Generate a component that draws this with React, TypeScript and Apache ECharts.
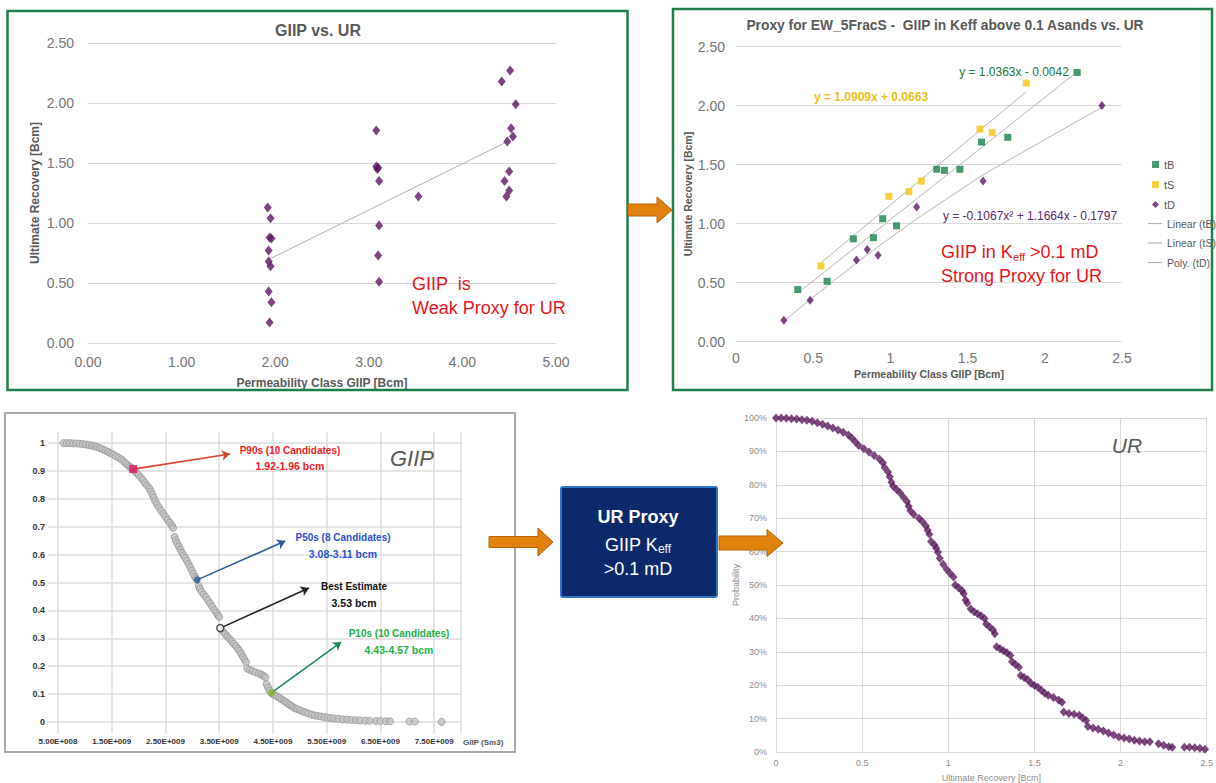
import React, { useEffect, useRef } from "react";
import * as echarts from "echarts";

const FONT = "'Liberation Sans', Arial, sans-serif";

// ---------- GIIP vs. UR : permeability-class candidates ----------
const classGiip = [
  1.92, 1.95, 1.94, 1.96, 1.93, 1.93, 1.95, 1.93, 1.96, 1.94,
  3.08, 3.08, 3.09, 3.10, 3.11, 3.11, 3.10, 3.11,
  3.53,
  4.51, 4.42, 4.57, 4.52, 4.54, 4.48, 4.50, 4.45, 4.50, 4.47,
];
const classUr = [
  1.13, 1.04, 0.88, 0.87, 0.77, 0.68, 0.64, 0.43, 0.34, 0.17,
  1.77, 1.47, 1.45, 1.46, 1.35, 0.98, 0.73, 0.51,
  1.22,
  2.27, 2.18, 1.99, 1.79, 1.72, 1.68, 1.43, 1.35, 1.27, 1.22,
];
const classTrendGiip = [1.94, 4.46];
const classTrendUr = [0.7, 1.67];

// ---------- Proxy for EW_5FracS : GIIP in Keff > 0.1 vs. UR ----------
const tbGiip = [0.4, 0.59, 0.76, 0.89, 0.95, 1.04, 1.3, 1.35, 1.45, 1.59, 1.76, 2.21];
const tbUr = [0.44, 0.51, 0.87, 0.88, 1.04, 0.98, 1.46, 1.45, 1.46, 1.69, 1.73, 2.28];
const tsGiip = [0.55, 0.99, 1.12, 1.2, 1.58, 1.66, 1.88];
const tsUr = [0.64, 1.23, 1.27, 1.36, 1.8, 1.77, 2.19];
const tdGiip = [0.31, 0.48, 0.78, 0.85, 0.92, 1.17, 1.6, 2.37];
const tdUr = [0.18, 0.35, 0.69, 0.78, 0.73, 1.14, 1.36, 2.0];
// trendline coefficients as printed on the chart
const tbFit = [1.0363, -0.0042];
const tsFit = [1.0909, 0.0663];
const tdFit = [-0.1067, 1.1664, -0.1797];

// ---------- GIIP exceedance curve [bcm, probability] ----------
const giipExceedance: [number, number][] = [
  [0.6, 1.0], [0.66, 1.0], [0.72, 1.0], [0.78, 0.999], [0.84, 0.999], [0.9, 0.998], [0.96, 0.997],
  [1.02, 0.995], [1.08, 0.993], [1.13, 0.991], [1.18, 0.989], [1.23, 0.986], [1.28, 0.982], [1.33, 0.978],
  [1.38, 0.974], [1.43, 0.969], [1.48, 0.964], [1.53, 0.959], [1.58, 0.953], [1.63, 0.948], [1.68, 0.942],
  [1.72, 0.935], [1.76, 0.928], [1.8, 0.921], [1.84, 0.915], [1.87, 0.911],
  [1.93, 0.9], [1.96, 0.893], [2.0, 0.886], [2.04, 0.877], [2.08, 0.868], [2.12, 0.857], [2.16, 0.848],
  [2.2, 0.838], [2.23, 0.827], [2.26, 0.816], [2.28, 0.804], [2.31, 0.792], [2.34, 0.781], [2.38, 0.77],
  [2.42, 0.758], [2.46, 0.747], [2.5, 0.736], [2.54, 0.725], [2.58, 0.715], [2.62, 0.704], [2.64, 0.696],
  [2.67, 0.664], [2.69, 0.652], [2.72, 0.641], [2.75, 0.63], [2.78, 0.618], [2.81, 0.607], [2.84, 0.597],
  [2.87, 0.588], [2.9, 0.578], [2.93, 0.567], [2.96, 0.556], [2.99, 0.544], [3.02, 0.532], [3.05, 0.521],
  [3.07, 0.514],
  [3.12, 0.488], [3.14, 0.478], [3.17, 0.468], [3.21, 0.458], [3.25, 0.448], [3.29, 0.437], [3.33, 0.426],
  [3.37, 0.414], [3.41, 0.402], [3.45, 0.391], [3.48, 0.383], [3.5, 0.377],
  [3.57, 0.325], [3.61, 0.316], [3.65, 0.307], [3.69, 0.299], [3.73, 0.29], [3.77, 0.281], [3.81, 0.272],
  [3.85, 0.263], [3.88, 0.255], [3.91, 0.245], [3.94, 0.235], [3.97, 0.225], [4.0, 0.215],
  [4.02, 0.192], [4.07, 0.187], [4.12, 0.183], [4.18, 0.178], [4.24, 0.174], [4.29, 0.17], [4.33, 0.165],
  [4.36, 0.16],
  [4.38, 0.136], [4.41, 0.124], [4.44, 0.112], [4.5, 0.1], [4.54, 0.096], [4.58, 0.092], [4.62, 0.087],
  [4.66, 0.082], [4.7, 0.077], [4.74, 0.072], [4.78, 0.066], [4.82, 0.061], [4.86, 0.056], [4.9, 0.051],
  [4.95, 0.047], [5.0, 0.043], [5.05, 0.039], [5.1, 0.035], [5.16, 0.031], [5.22, 0.027], [5.28, 0.024],
  [5.34, 0.022], [5.4, 0.02], [5.46, 0.018], [5.52, 0.016], [5.58, 0.015], [5.64, 0.013], [5.72, 0.012],
  [5.8, 0.01], [5.88, 0.009], [5.96, 0.008], [6.04, 0.007], [6.12, 0.006], [6.22, 0.005], [6.3, 0.005],
  [6.42, 0.004], [6.5, 0.004], [6.6, 0.003], [6.68, 0.003], [7.04, 0.002], [7.14, 0.002], [7.64, 0.001],
];

// highlighted candidates and their call-out arrow ends [bcm, probability]
const candidateGiip = [1.9, 3.09, 3.52, 4.47];
const candidateProb = [0.907, 0.51, 0.337, 0.105];
const calloutGiip = [3.7, 4.73, 5.17, 5.77];
const calloutProb = [0.961, 0.649, 0.481, 0.287];
const candidateTitles = ["P90s (10 Candidates)", "P50s (8 Candidates)", "Best Estimate", "P10s (10 Candidates)"];
const candidateRanges = ["1.92-1.96 bcm", "3.08-3.11 bcm", "3.53 bcm", "4.43-4.57 bcm"];

// ---------- UR exceedance curve [bcm, probability] ----------
const urExceedance: [number, number][] = [
  [0.0, 1.0], [0.03, 1.0], [0.06, 0.999], [0.09, 0.998], [0.12, 0.997], [0.15, 0.995], [0.18, 0.993],
  [0.21, 0.99], [0.24, 0.986], [0.27, 0.981], [0.3, 0.976], [0.33, 0.97], [0.36, 0.964], [0.39, 0.957],
  [0.42, 0.949], [0.44, 0.94], [0.46, 0.929], [0.48, 0.918], [0.51, 0.908], [0.54, 0.898], [0.57, 0.888],
  [0.6, 0.877], [0.62, 0.866], [0.63, 0.852], [0.65, 0.838], [0.66, 0.824], [0.67, 0.808], [0.68, 0.796],
  [0.7, 0.786], [0.72, 0.776], [0.74, 0.763], [0.76, 0.75], [0.77, 0.736], [0.78, 0.722], [0.8, 0.711],
  [0.83, 0.7], [0.85, 0.689], [0.87, 0.677], [0.88, 0.664], [0.89, 0.652],
  [0.9, 0.63], [0.92, 0.62], [0.93, 0.61], [0.94, 0.598],
  [0.95, 0.58], [0.97, 0.562], [0.99, 0.547], [1.01, 0.535], [1.03, 0.524],
  [1.04, 0.5], [1.06, 0.492], [1.08, 0.483], [1.09, 0.474],
  [1.1, 0.455], [1.11, 0.446], [1.13, 0.428], [1.15, 0.42], [1.17, 0.414], [1.19, 0.408], [1.21, 0.4],
  [1.22, 0.383], [1.24, 0.374], [1.26, 0.365], [1.27, 0.354],
  [1.28, 0.315], [1.3, 0.309], [1.32, 0.303], [1.34, 0.297], [1.36, 0.29],
  [1.37, 0.27], [1.39, 0.262], [1.41, 0.254],
  [1.42, 0.229], [1.44, 0.223], [1.46, 0.217], [1.48, 0.206], [1.5, 0.199], [1.52, 0.194], [1.54, 0.185],
  [1.56, 0.176], [1.58, 0.17], [1.61, 0.163], [1.64, 0.156], [1.66, 0.149],
  [1.67, 0.12], [1.7, 0.115], [1.73, 0.113], [1.76, 0.11], [1.78, 0.102], [1.8, 0.094],
  [1.81, 0.076], [1.84, 0.072], [1.87, 0.068], [1.9, 0.063], [1.93, 0.057], [1.96, 0.051], [1.99, 0.045],
  [2.02, 0.042], [2.05, 0.039], [2.08, 0.035], [2.11, 0.033], [2.14, 0.031], [2.17, 0.031],
  [2.22, 0.025], [2.25, 0.02], [2.28, 0.016], [2.3, 0.014],
  [2.37, 0.014], [2.4, 0.014], [2.43, 0.013], [2.46, 0.011], [2.49, 0.008],
];

const lin = (c: number[], x: number) => c[0] * x + c[1];
const quad = (c: number[], x: number) => c[0] * x * x + c[1] * x + c[2];
const ends = (xs: number[]) => [Math.min(...xs), Math.max(...xs)];

const sciLabel = (v: number) => {
  if (v > 7.9e9) return "";
  const e = Math.floor(Math.log10(v) + 1e-9);
  const m = v / Math.pow(10, e);
  return `${m.toFixed(2)}E+${String(e).padStart(3, "0")}`;
};

const txt = (text: string, x: number, y: number, size: number, fill: string, extra: any = {}, z = 60) => ({
  type: "text",
  x,
  y,
  z,
  silent: true,
  style: {
    text,
    fontFamily: FONT,
    fontSize: size,
    fill,
    align: "center",
    verticalAlign: "middle",
    ...extra,
  },
});

const blockArrow = (x0: number, x1: number, xt: number, yc: number, sh: number, hh: number) => ({
  type: "polygon",
  z: 100,
  silent: true,
  shape: {
    points: [
      [x0, yc - sh], [x1, yc - sh], [x1, yc - hh], [xt, yc], [x1, yc + hh], [x1, yc + sh], [x0, yc + sh],
    ],
  },
  style: { fill: "#e2820c", stroke: "#b4620a", lineWidth: 1 },
});

const gray = "#767676";
const dark = "#595959";
const purple = "#5e1461";

const candidateStyles = [
  { symbol: "rect", size: 8, item: { color: "#e0115f" }, arrow: "#d8452c", text: "#ef1c25" },
  { symbol: "circle", size: 7, item: { color: "#2e5c9e" }, arrow: "#2d5b9a", text: "#2b50d0" },
  { symbol: "circle", size: 7, item: { color: "#ffffff", borderColor: "#222", borderWidth: 1.5 }, arrow: "#222", text: "#111" },
  { symbol: "circle", size: 8, item: { color: "#8cb33a" }, arrow: "#1d8a5a", text: "#25b04a" },
];
const calloutTextPos = [
  [290, 450, 466],
  [343, 537, 554],
  [354, 586, 603],
  [399, 633, 650],
];

function buildOption(): any {
  const tbLine = ends(tbGiip).map((x) => [x, lin(tbFit, x)]);
  const tsLine = ends(tsGiip).map((x) => [x, lin(tsFit, x)]);
  const tdCurve = tdGiip.map((x) => [x, quad(tdFit, x)]);

  const candidateSeries = candidateGiip.map((g, i) => ({
    type: "scatter",
    xAxisIndex: 3,
    yAxisIndex: 3,
    symbol: candidateStyles[i].symbol,
    symbolSize: candidateStyles[i].size,
    itemStyle: candidateStyles[i].item,
    z: 5,
    data: [[g * 1e9, candidateProb[i]]],
    markLine: {
      silent: true,
      symbol: ["none", "arrow"],
      symbolSize: 8,
      label: { show: false },
      lineStyle: { color: candidateStyles[i].arrow, width: 1.6, type: "solid" },
      data: [[{ coord: [g * 1e9, candidateProb[i]] }, { coord: [calloutGiip[i] * 1e9, calloutProb[i]] }]],
    },
  }));

  const calloutTexts: any[] = [];
  candidateTitles.forEach((t, i) => {
    const [cx, y1, y2] = calloutTextPos[i];
    calloutTexts.push(txt(t, cx, y1, 10, candidateStyles[i].text, { fontWeight: "bold" }));
    calloutTexts.push(txt(candidateRanges[i], cx, y2, 10.5, candidateStyles[i].text, { fontWeight: "bold" }));
  });

  return {
    animation: false,
    backgroundColor: "#ffffff",
    textStyle: { fontFamily: FONT },
    grid: [
      { left: 88, top: 43, width: 468, height: 300 },
      { left: 736, top: 46.5, width: 386, height: 295 },
      { left: 48, top: 443, width: 413, height: 279 },
      { left: 58, top: 432, width: 403, height: 301.3 },
      { left: 776, top: 418, width: 435, height: 335 },
    ],
    legend: [
      {
        data: ["tB", "tS", "tD"],
        orient: "vertical",
        left: 1147,
        top: 154,
        itemGap: 9,
        itemWidth: 7,
        itemHeight: 7,
        selectedMode: false,
        textStyle: { fontFamily: FONT, fontSize: 11, color: dark },
      },
      {
        data: [
          { name: "Linear (tB)", icon: "rect" },
          { name: "Linear (tS)", icon: "rect" },
          { name: "Poly. (tD)", icon: "rect" },
        ],
        orient: "vertical",
        left: 1143,
        top: 213,
        itemGap: 8.5,
        itemWidth: 14,
        itemHeight: 1.2,
        selectedMode: false,
        itemStyle: { color: "#b5b5b5", borderWidth: 0 },
        textStyle: { fontFamily: FONT, fontSize: 10.5, color: dark },
      },
    ],
    xAxis: [
      {
        gridIndex: 0, type: "value", min: 0, max: 5, interval: 1,
        axisLine: { show: false }, axisTick: { show: false }, splitLine: { show: false },
        axisLabel: { formatter: (v: number) => v.toFixed(2), fontSize: 14, color: gray, margin: 12 },
        name: "Permeability Class GIIP [Bcm]", nameLocation: "middle", nameGap: 34,
        nameTextStyle: { fontSize: 12, fontWeight: "bold", color: dark },
      },
      {
        gridIndex: 1, type: "value", min: 0, max: 2.5, interval: 0.5,
        axisLine: { show: false }, axisTick: { show: false }, splitLine: { show: false },
        axisLabel: { formatter: (v: number) => String(v), fontSize: 14, color: gray, margin: 9 },
        name: "Permeability Class GIIP [Bcm]", nameLocation: "middle", nameGap: 27,
        nameTextStyle: { fontSize: 10.5, fontWeight: "bold", color: dark },
      },
      { gridIndex: 2, type: "value", min: 0, max: 1, show: false },
      {
        gridIndex: 3, type: "value", min: 5e8, max: 8e9, interval: 1e9,
        axisLine: { show: false }, axisTick: { show: false },
        splitLine: { show: true, lineStyle: { color: "#dcdcdc", width: 1.5 } },
        axisLabel: { formatter: sciLabel, fontSize: 8, fontWeight: "bold", color: "#333", margin: 4 },
      },
      {
        gridIndex: 4, type: "value", min: 0, max: 2.5, interval: 0.5,
        axisLine: { show: false }, axisTick: { show: false },
        splitLine: { show: true, lineStyle: { color: "#d9d9d9" } },
        axisLabel: { formatter: (v: number) => String(v), fontSize: 9, color: "#8c8c8c", margin: 6 },
        name: "Ultimate Recovery [Bcm]", nameLocation: "middle", nameGap: 21,
        nameTextStyle: { fontSize: 9, color: "#8c8c8c" },
      },
    ],
    yAxis: [
      {
        gridIndex: 0, type: "value", min: 0, max: 2.5, interval: 0.5,
        axisLine: { show: false }, axisTick: { show: false },
        splitLine: { lineStyle: { color: "#d9d9d9" } },
        axisLabel: { formatter: (v: number) => v.toFixed(2), fontSize: 14, color: gray, margin: 14 },
        name: "Ultimate Recovery [Bcm]", nameLocation: "middle", nameGap: 47,
        nameTextStyle: { fontSize: 12, fontWeight: "bold", color: dark },
      },
      {
        gridIndex: 1, type: "value", min: 0, max: 2.5, interval: 0.5,
        axisLine: { show: false }, axisTick: { show: false },
        splitLine: { lineStyle: { color: "#d9d9d9" } },
        axisLabel: { formatter: (v: number) => v.toFixed(2), fontSize: 14, color: gray, margin: 11 },
        name: "Ultimate Recovery [Bcm]", nameLocation: "middle", nameGap: 42,
        nameTextStyle: { fontSize: 10.5, fontWeight: "bold", color: dark },
      },
      {
        gridIndex: 2, type: "value", min: 0, max: 1, interval: 0.1,
        axisLine: { show: false }, axisTick: { show: false },
        splitLine: { lineStyle: { color: "#dcdcdc", width: 1.5 } },
        axisLabel: {
          formatter: (v: number) => {
            const r = Math.round(v * 10) / 10;
            return r % 1 === 0 ? String(r) : r.toFixed(1);
          },
          fontSize: 9, fontWeight: "bold", color: "#333", margin: 3,
        },
      },
      { gridIndex: 3, type: "value", min: -0.04, max: 1.04, show: false },
      {
        gridIndex: 4, type: "value", min: 0, max: 1, interval: 0.1,
        axisLine: { show: false }, axisTick: { show: false },
        splitLine: { lineStyle: { color: "#d9d9d9" } },
        axisLabel: { formatter: (v: number) => `${Math.round(v * 100)}%`, fontSize: 9, color: "#8c8c8c", margin: 9 },
        name: "Probability", nameLocation: "middle", nameGap: 34,
        nameTextStyle: { fontSize: 9, color: "#8c8c8c" },
      },
    ],
    series: [
      {
        type: "scatter", xAxisIndex: 0, yAxisIndex: 0, symbol: "diamond", symbolSize: [8, 10], z: 4,
        itemStyle: { color: purple },
        data: classGiip.map((x, i) => [x, classUr[i]]),
      },
      {
        type: "line", xAxisIndex: 0, yAxisIndex: 0, symbol: "none", z: 3,
        lineStyle: { color: "#b0b0b0", width: 1 },
        data: classTrendGiip.map((x, i) => [x, classTrendUr[i]]),
      },
      {
        name: "tB", type: "scatter", xAxisIndex: 1, yAxisIndex: 1, symbol: "rect", symbolSize: 7, z: 4,
        itemStyle: { color: "#16824a" },
        data: tbGiip.map((x, i) => [x, tbUr[i]]),
      },
      {
        name: "tS", type: "scatter", xAxisIndex: 1, yAxisIndex: 1, symbol: "rect", symbolSize: 7, z: 4,
        itemStyle: { color: "#f4c414" },
        data: tsGiip.map((x, i) => [x, tsUr[i]]),
      },
      {
        name: "tD", type: "scatter", xAxisIndex: 1, yAxisIndex: 1, symbol: "diamond", symbolSize: [7, 9], z: 4,
        itemStyle: { color: purple },
        data: tdGiip.map((x, i) => [x, tdUr[i]]),
      },
      {
        name: "Linear (tB)", type: "line", xAxisIndex: 1, yAxisIndex: 1, symbol: "none", z: 3,
        itemStyle: { color: "#b5b5b5" }, lineStyle: { color: "#b5b5b5", width: 1 }, data: tbLine,
      },
      {
        name: "Linear (tS)", type: "line", xAxisIndex: 1, yAxisIndex: 1, symbol: "none", z: 3,
        itemStyle: { color: "#b5b5b5" }, lineStyle: { color: "#b5b5b5", width: 1 }, data: tsLine,
      },
      {
        name: "Poly. (tD)", type: "line", xAxisIndex: 1, yAxisIndex: 1, symbol: "none", z: 3,
        itemStyle: { color: "#b5b5b5" }, lineStyle: { color: "#b5b5b5", width: 1 }, data: tdCurve,
      },
      {
        type: "scatter", xAxisIndex: 3, yAxisIndex: 3, symbol: "circle", symbolSize: 7, z: 3,
        itemStyle: { color: "#c2c2c2", borderColor: "#969696", borderWidth: 1 },
        data: giipExceedance.map(([b, p]) => [b * 1e9, p]),
      },
      ...candidateSeries,
      {
        type: "scatter", xAxisIndex: 4, yAxisIndex: 4, symbol: "diamond", symbolSize: [8, 9], z: 3,
        itemStyle: { color: "#5c1a5e" },
        data: urExceedance,
      },
    ],
    graphic: [
      // panel frames
      { type: "rect", z: 1, silent: true, shape: { x: 7.5, y: 11, width: 620, height: 379 }, style: { fill: "none", stroke: "#1f7f4a", lineWidth: 2.5 } },
      { type: "rect", z: 1, silent: true, shape: { x: 673, y: 9, width: 539, height: 381 }, style: { fill: "none", stroke: "#1f7f4a", lineWidth: 2.5 } },
      { type: "rect", z: 1, silent: true, shape: { x: 5, y: 413, width: 510, height: 339 }, style: { fill: "none", stroke: "#a8a8a8", lineWidth: 2 } },
      // titles
      txt("GIIP vs. UR", 318, 30, 16, dark, { fontWeight: "bold" }),
      txt("Proxy for EW_5FracS -  GIIP in Keff above 0.1 Asands vs. UR", 945, 25, 13.8, dark, { fontWeight: "bold" }),
      // annotations, upper panels
      txt("GIIP  is", 412, 284, 18, "#e8141c", { align: "left" }),
      txt("Weak Proxy for UR", 412, 308, 18, "#e8141c", { align: "left" }),
      txt("y = 1.0363x - 0.0042", 1014, 72, 12, "#1e7a46"),
      txt("y = 1.0909x + 0.0663", 871, 97, 12, "#ecc01a", { fontWeight: "bold" }),
      txt("y = -0.1067x² + 1.1664x - 0.1797", 1030, 216, 12, "#5b2a6b"),
      {
        type: "text", x: 941, y: 252, z: 60, silent: true,
        style: {
          text: "{a|GIIP in K}{s|eff}{a| >0.1 mD}",
          align: "left", verticalAlign: "middle",
          rich: {
            a: { fontFamily: FONT, fontSize: 18, fill: "#e8141c" },
            s: { fontFamily: FONT, fontSize: 11, fill: "#e8141c", padding: [9, 0, 0, 0] },
          },
        },
      },
      txt("Strong Proxy for UR", 941, 276, 18, "#e8141c", { align: "left" }),
      // annotations, lower panels
      ...calloutTexts,
      txt("GIIP", 412, 458, 22, "#595959", { fontStyle: "italic" }),
      txt("UR", 1127, 445, 21, "#595959", { fontStyle: "italic" }),
      txt("GIIP (Sm3)", 463, 742, 8, "#555", { align: "left", fontWeight: "bold" }),
      // proxy box
      { type: "rect", z: 90, silent: true, shape: { x: 561, y: 487, width: 156, height: 110, r: 2 }, style: { fill: "#0b2a6b", stroke: "#2e75c8", lineWidth: 2 } },
      txt("UR Proxy", 638, 517, 18, "#ffffff", { fontWeight: "bold" }, 95),
      {
        type: "text", x: 638, y: 545, z: 95, silent: true,
        style: {
          text: "{a|GIIP K}{s|eff}",
          align: "center", verticalAlign: "middle",
          rich: {
            a: { fontFamily: FONT, fontSize: 18, fill: "#ffffff" },
            s: { fontFamily: FONT, fontSize: 12, fill: "#ffffff", padding: [8, 0, 0, 0] },
          },
        },
      },
      txt(">0.1 mD", 638, 569, 18, "#ffffff", {}, 95),
      // flow arrows
      blockArrow(628, 657, 672, 210, 6, 13),
      blockArrow(489, 538, 553, 542, 5.5, 14),
      blockArrow(719, 767, 783, 543, 7, 13.5),
    ],
  };
}

export default function App() {
  const ref = useRef<HTMLDivElement>(null);
  useEffect(() => {
    if (!ref.current) return;
    const chart = echarts.init(ref.current, null, { renderer: "svg" });
    chart.setOption(buildOption());
    return () => chart.dispose();
  }, []);
  return (
    <div
      ref={ref}
      style={{ position: "absolute", left: 0, top: 0, width: 1216, height: 783, background: "#fff" }}
    />
  );
}
